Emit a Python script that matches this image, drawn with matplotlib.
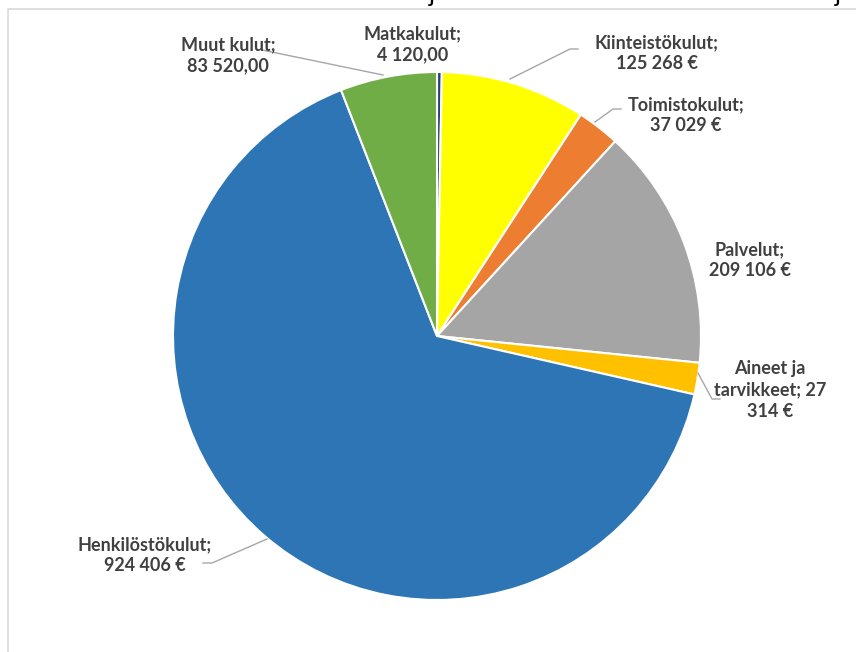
import matplotlib
matplotlib.use("Agg")
import matplotlib.pyplot as plt

# cost categories, clockwise from 12 o'clock
labels = ["Matkakulut;\n4 120,00", "Kiinteistökulut;\n125 268 €", "Toimistokulut;\n37 029 €",
          "Palvelut;\n209 106 €", "Aineet ja\ntarvikkeet; 27\n314 €",
          "Henkilöstökulut;\n924 406 €", "Muut kulut;\n83 520,00"]
values = [4120, 125268, 37029, 209106, 27314, 924406, 83520]
colors = ["#264478", "#FFFF00", "#ED7D31", "#A5A5A5", "#FFC000", "#2E75B6", "#70AD47"]

W, H = 856, 652
fig = plt.figure(figsize=(W / 100, H / 100), dpi=100)
ax = fig.add_axes([0, 0, 1, 1])

cx, cy, r = 437, H - 336, 264
ax.pie(values, colors=colors, startangle=90, counterclock=False, center=(cx, cy), radius=r,
       wedgeprops=dict(edgecolor="white", linewidth=1.5), frame=True)
ax.set_xlim(0, W)
ax.set_ylim(0, H)
ax.set_aspect("equal")
ax.axis("off")

# label positions (pixel coords, y from top) and leader lines
label_pos = [(413, 44), (657, 53), (686, 115), (750, 260), (770, 390), (145, 555), (228, 55)]
leaders = {
    1: [(510, 79), (570, 49), (578, 49)],
    2: [(595, 122), (613, 109), (621, 109)],
    4: [(698, 373), (712, 399), (720, 399)],
    5: [(267, 539), (212, 563), (203, 563)],
    6: [(383, 75), (262, 50)],
}
for i, (lx, ly) in enumerate(label_pos):
    ax.text(lx, H - ly, labels[i], ha="center", va="center", fontsize=13, fontweight="bold",
            color="#404040", family="Lato", linespacing=1.3)
for pts in leaders.values():
    ax.plot([p[0] for p in pts], [H - p[1] for p in pts], color="#A6A6A6", lw=1)

# chart frame
ax.plot([8, 8, W], [0, H - 9, H - 9], color="#D9D9D9", lw=1.2)

# cut-off title descenders
ax.text(432, H + 6, "j", ha="center", va="center", fontsize=18, color="black", family="Lato")
ax.text(838, H + 6, "j", ha="center", va="center", fontsize=18, color="black", family="Lato")

fig.savefig("out.png", dpi=100)
